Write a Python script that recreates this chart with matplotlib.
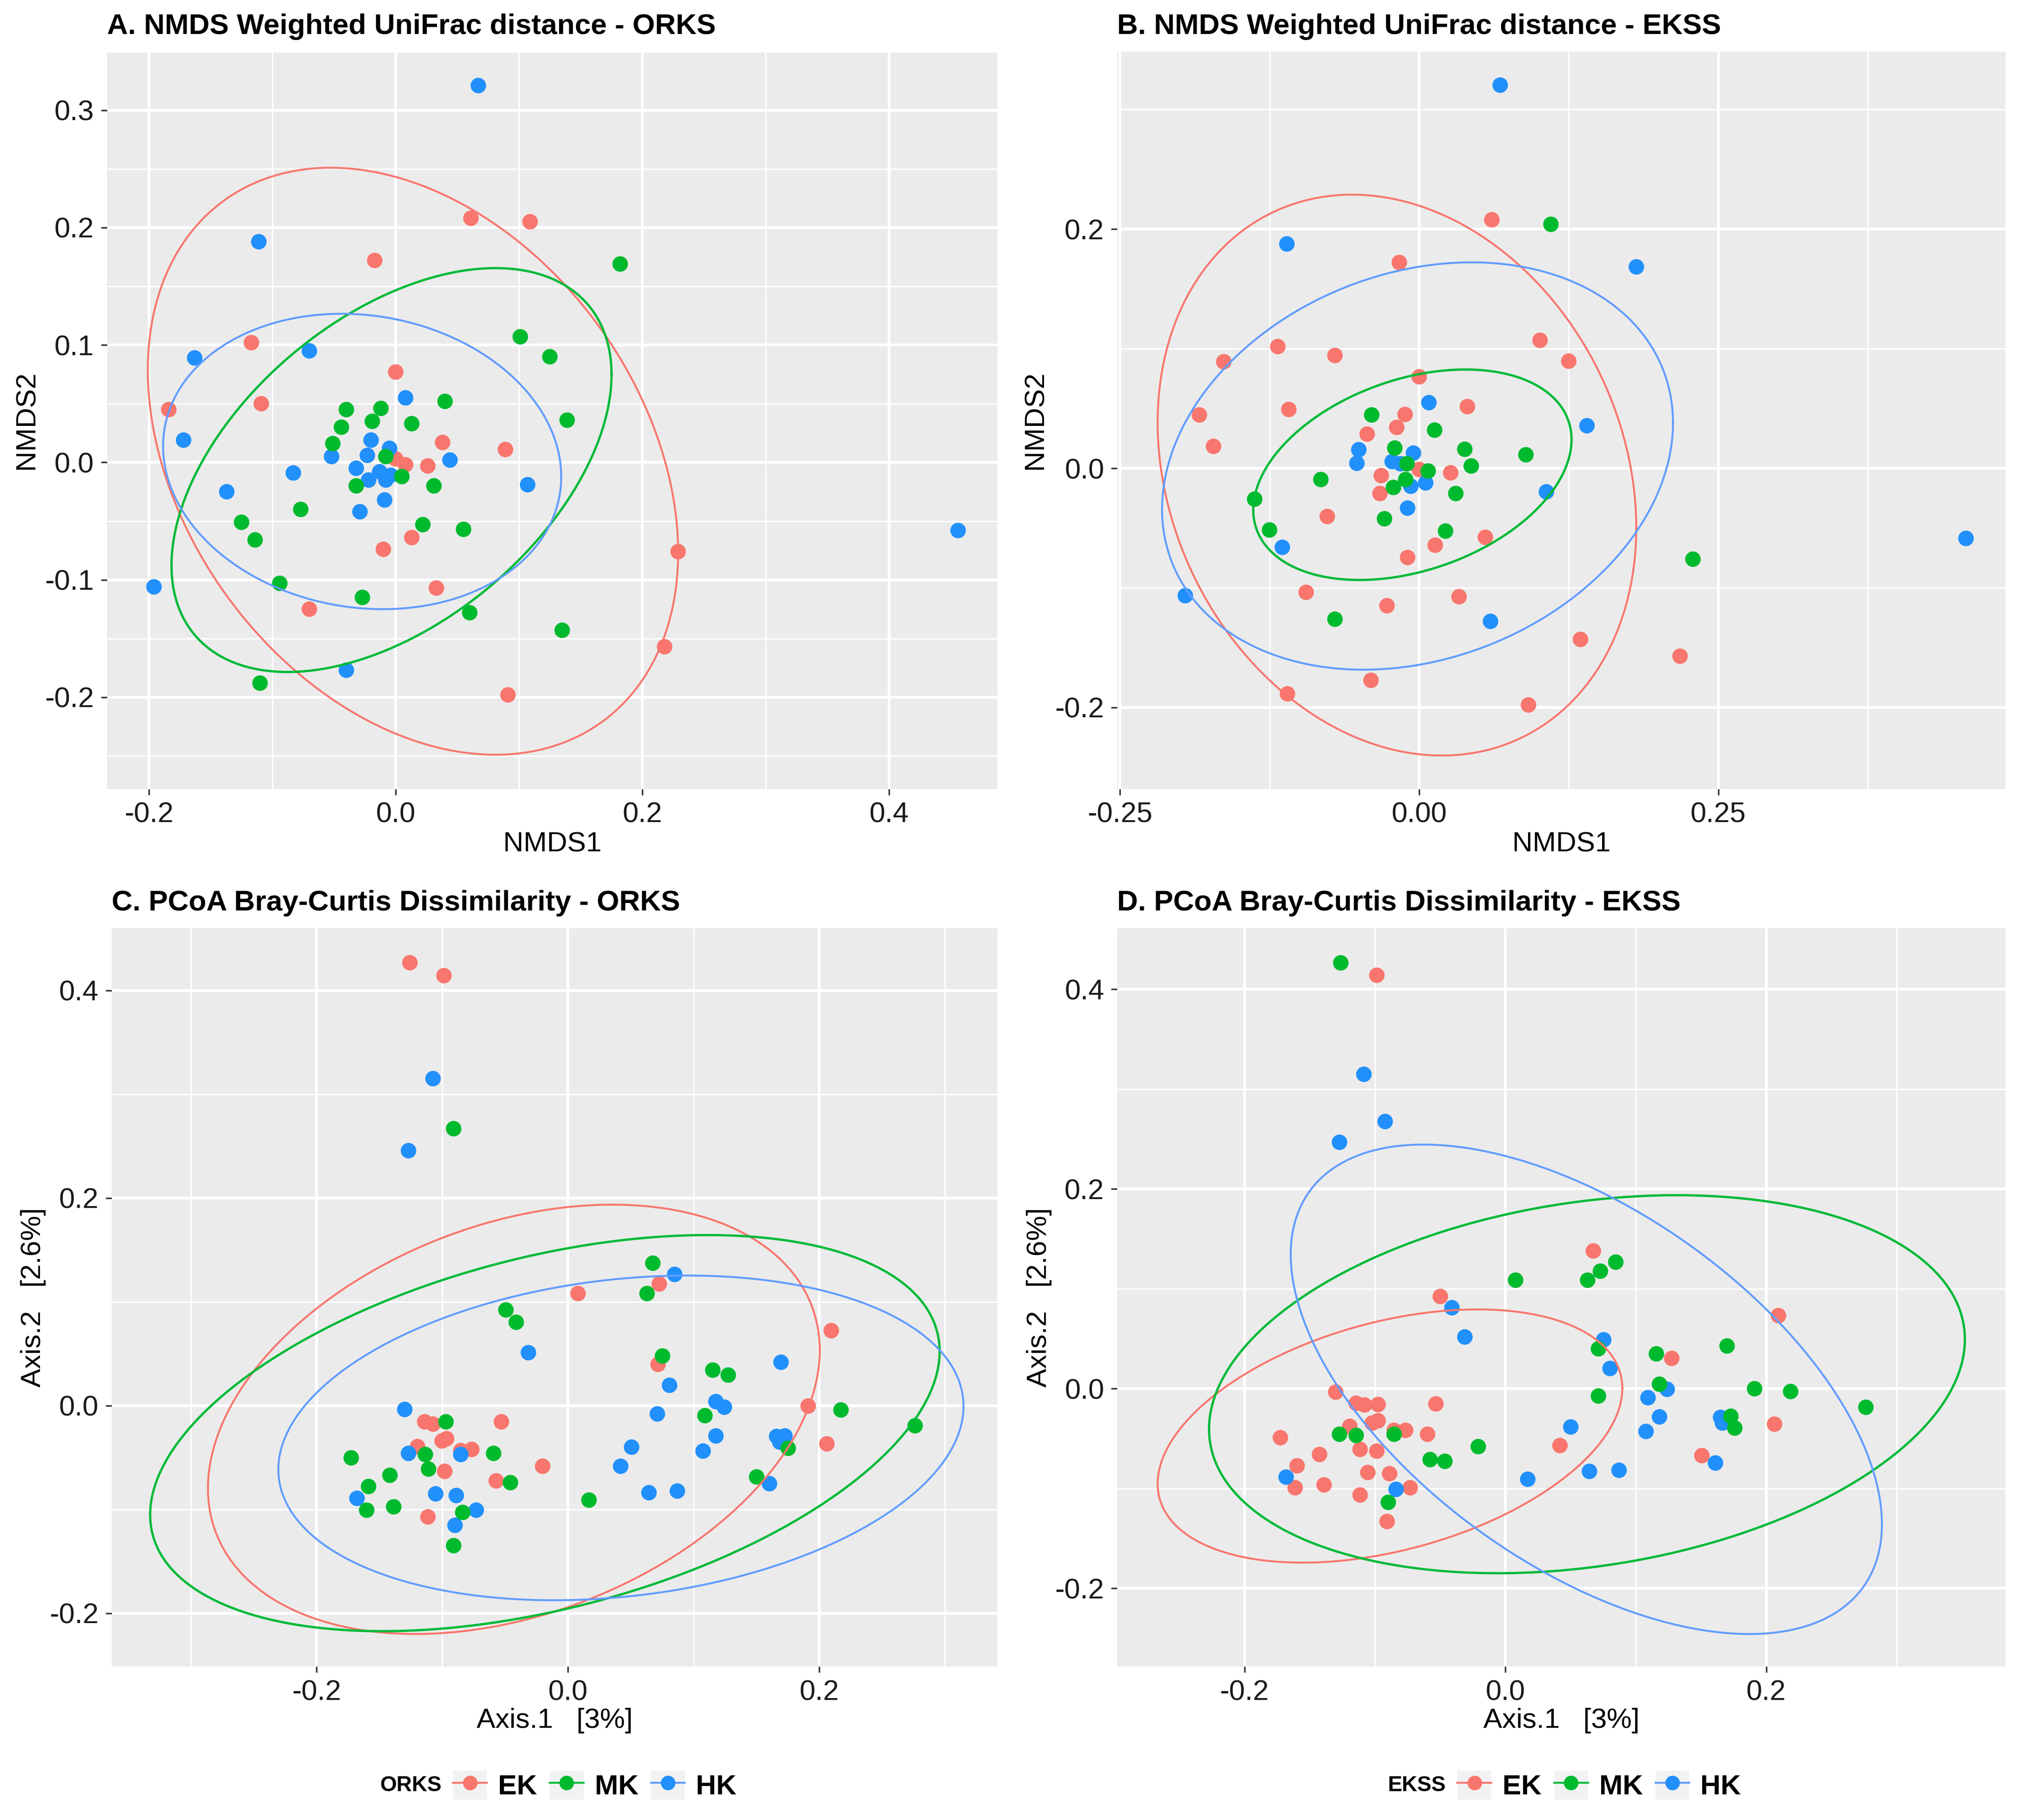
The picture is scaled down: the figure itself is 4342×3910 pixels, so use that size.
import matplotlib
matplotlib.use('Agg')
import matplotlib.pyplot as plt
import numpy as np
from matplotlib.patches import Rectangle
from matplotlib.lines import Line2D
from matplotlib.legend_handler import HandlerTuple
from matplotlib.ticker import FixedLocator

plt.rcParams['font.family'] = ['Liberation Sans', 'DejaVu Sans']

groups = ['EK', 'MK', 'HK']
point_colors = ['#F8766D', '#00BA2E', '#2190FB']
ellipse_colors = ['#F8766D', '#00BA38', '#619CFF']

# ---- panel A: NMDS weighted UniFrac, ORKS groups ----
A_EK_X = [0.061, 0.109, -0.017, -0.117, 0.000, -0.184, -0.109, 0.038, 0.089, 0.000, 0.008, 0.026, -0.010, 0.013, 0.229, 0.033, -0.070, 0.218, 0.091]
A_EK_Y = [0.208, 0.205, 0.172, 0.102, 0.077, 0.045, 0.050, 0.017, 0.011, 0.003, -0.002, -0.003, -0.074, -0.064, -0.076, -0.107, -0.125, -0.157, -0.198]
A_MK_X = [0.182, 0.101, 0.125, 0.139, 0.040, -0.040, -0.012, -0.019, -0.044, 0.013, -0.051, -0.008, 0.005, -0.032, 0.031, -0.077, -0.125, -0.114, 0.022, 0.055, -0.094, -0.027, 0.060, 0.135, -0.110]
A_MK_Y = [0.169, 0.107, 0.090, 0.036, 0.052, 0.045, 0.046, 0.035, 0.030, 0.033, 0.016, 0.005, -0.012, -0.020, -0.020, -0.040, -0.051, -0.066, -0.053, -0.057, -0.103, -0.115, -0.128, -0.143, -0.188]
A_HK_X = [0.067, -0.111, -0.163, -0.070, 0.008, -0.172, -0.020, -0.005, -0.023, -0.052, 0.044, -0.083, -0.032, -0.013, -0.008, -0.022, -0.004, 0.107, -0.137, -0.009, -0.029, -0.196, -0.040, 0.456]
A_HK_Y = [0.321, 0.188, 0.089, 0.095, 0.055, 0.019, 0.019, 0.012, 0.006, 0.005, 0.002, -0.009, -0.005, -0.008, -0.015, -0.015, -0.011, -0.019, -0.025, -0.032, -0.042, -0.106, -0.177, -0.058]
# ellipse: centre x, centre y, sd x, sd y, covariance
A_ELL_EK = [0.014, 0.001, 0.215, 0.250, -0.0167]
A_ELL_MK = [-0.0034, -0.0065, 0.1784, 0.172, 0.0145]
A_ELL_HK = [-0.0272, 0.0008, 0.1614, 0.1258, -0.0021]

# ---- panel B: NMDS weighted UniFrac, EKSS groups ----
B_EK_X = [0.0607, -0.0166, -0.1182, -0.1633, -0.0704, 0.101, 0.125, 0.0, -0.1837, -0.109, 0.0403, -0.0118, -0.0188, -0.0435, -0.1719, 0.0263, -0.0317, -0.0328, 0.0, -0.0768, 0.0553, 0.0134, -0.0097, -0.0945, 0.0333, -0.0269, 0.1348, 0.218, -0.0403, -0.1101, 0.0913]
B_EK_Y = [0.2078, 0.1721, 0.1018, 0.0891, 0.0943, 0.107, 0.0896, 0.0765, 0.0446, 0.0492, 0.0516, 0.045, 0.0342, 0.0286, 0.0183, -0.0038, -0.0061, -0.0211, -0.001, -0.0403, -0.0577, -0.0643, -0.0746, -0.1037, -0.1074, -0.1149, -0.1431, -0.1571, -0.1773, -0.1886, -0.1979]
B_MK_X = [0.1101, -0.0397, 0.0129, -0.0204, 0.0381, 0.0435, 0.0892, -0.0102, 0.0075, -0.0822, -0.0113, -0.0215, 0.0306, -0.1375, -0.1251, -0.029, 0.022, 0.2288, -0.0704]
B_MK_Y = [0.204, 0.0446, 0.0319, 0.0169, 0.0159, 0.0019, 0.0113, 0.0038, -0.0023, -0.0094, -0.0094, -0.016, -0.0211, -0.0258, -0.0516, -0.0422, -0.0525, -0.076, -0.1262]
B_HK_X = [0.0677, -0.1106, 0.1815, 0.0081, 0.1402, -0.0505, -0.0521, -0.0048, -0.0226, -0.0156, 0.0054, -0.007, 0.1063, -0.0097, -0.1144, -0.1955, 0.0596, 0.457]
B_HK_Y = [0.3204, 0.1876, 0.1684, 0.0549, 0.0356, 0.0155, 0.0042, 0.0127, 0.0056, 0.0038, -0.0122, -0.015, -0.0197, -0.0333, -0.0661, -0.1065, -0.128, -0.0586]
B_ELL_EK = [-0.0186, -0.0057, 0.2000, 0.2345, -0.0088]
B_ELL_MK = [-0.0057, -0.0054, 0.133, 0.088, 0.0039]
B_ELL_HK = [-0.0014, 0.0019, 0.2135, 0.1703, 0.0077]

# ---- panel C: PCoA Bray-Curtis, ORKS groups ----
C_EK_X = [-0.1256, -0.0985, 0.0082, 0.0728, 0.2097, 0.0718, 0.1913, 0.2062, -0.1138, -0.1072, -0.0528, -0.1195, -0.1, -0.0964, -0.0764, -0.0851, -0.02, -0.0979, -0.0569, -0.1113]
C_EK_Y = [0.4266, 0.4141, 0.1079, 0.1171, 0.0721, 0.0396, -0.0005, -0.0369, -0.0157, -0.0179, -0.0157, -0.0396, -0.0341, -0.032, -0.0423, -0.0434, -0.0585, -0.0634, -0.0726, -0.1073]
C_MK_X = [-0.0908, 0.0677, 0.0631, -0.0492, -0.041, 0.0754, 0.1154, 0.1277, 0.1092, 0.2174, 0.2764, -0.0969, -0.1133, -0.1108, -0.1723, -0.059, -0.1415, -0.1585, -0.0456, -0.16, -0.1385, -0.0836, -0.0908, 0.0169, 0.1503, 0.1754]
C_MK_Y = [0.2667, 0.1371, 0.1079, 0.0921, 0.0802, 0.0477, 0.0341, 0.0293, -0.0098, -0.0043, -0.0195, -0.0157, -0.0472, -0.0612, -0.0504, -0.0461, -0.0672, -0.078, -0.0743, -0.1008, -0.0976, -0.103, -0.135, -0.0911, -0.0688, -0.0412]
C_HK_X = [-0.1072, -0.1267, 0.0851, -0.0313, 0.1697, 0.081, 0.0713, 0.1179, 0.1246, -0.1297, 0.1179, 0.1662, 0.1728, 0.1687, -0.1267, -0.0851, 0.0508, 0.1077, 0.0421, -0.1677, -0.1051, -0.0887, -0.0728, -0.0897, 0.0646, 0.0872, 0.1605]
C_HK_Y = [0.3149, 0.2455, 0.1263, 0.0509, 0.0417, 0.0195, -0.0081, 0.0038, -0.0016, -0.0038, -0.0293, -0.0298, -0.0293, -0.0352, -0.0461, -0.0472, -0.0401, -0.0439, -0.0585, -0.0894, -0.0851, -0.0867, -0.1008, -0.1154, -0.084, -0.0824, -0.0753]
C_ELL_EK = [-0.0429, -0.0133, 0.2434, 0.2068, 0.0162]
C_ELL_MK = [-0.0182, -0.0266, 0.3141, 0.1908, 0.0247]
C_ELL_HK = [0.0423, -0.0312, 0.2726, 0.1564, 0.0083]

# ---- panel D: PCoA Bray-Curtis, EKSS groups ----
D_EK_X = [-0.0985, 0.0675, -0.0498, 0.2094, 0.1276, -0.13, -0.1143, -0.1079, -0.0975, -0.0532, -0.1192, -0.0975, -0.102, -0.0852, -0.0764, -0.0596, -0.1724, -0.1113, -0.0985, -0.1424, -0.1596, -0.1054, -0.0887, -0.1389, -0.1611, -0.1113, -0.0729, -0.0906, 0.0419, 0.1507, 0.2064]
D_EK_Y = [0.4141, 0.138, 0.0924, 0.0732, 0.0304, -0.0034, -0.0146, -0.0163, -0.0158, -0.0152, -0.0377, -0.0321, -0.0344, -0.0417, -0.0417, -0.0456, -0.049, -0.0608, -0.0625, -0.0659, -0.0772, -0.0839, -0.0851, -0.0963, -0.0992, -0.1065, -0.0992, -0.133, -0.0569, -0.067, -0.0355]
D_MK_X = [-0.1261, 0.0847, 0.0729, 0.0631, 0.0079, 0.0714, 0.1158, 0.17, 0.0714, 0.1182, 0.1911, 0.2187, 0.2764, 0.1729, 0.1759, -0.1271, -0.1143, -0.0852, -0.0207, -0.0576, -0.0463, -0.0897]
D_MK_Y = [0.4265, 0.1268, 0.1177, 0.1087, 0.1087, 0.04, 0.0349, 0.0428, -0.0073, 0.0045, 0.0, -0.0028, -0.0186, -0.0276, -0.0394, -0.0456, -0.0468, -0.0456, -0.058, -0.071, -0.0727, -0.1138]
D_HK_X = [-0.1084, -0.0921, -0.1271, -0.0409, -0.031, 0.0754, 0.0803, 0.1241, 0.1094, 0.1182, 0.165, 0.1665, 0.0502, 0.1079, 0.1611, 0.0645, 0.0872, 0.0172, -0.168, -0.0837]
D_HK_Y = [0.3149, 0.2676, 0.2468, 0.0811, 0.0518, 0.049, 0.0203, -0.0006, -0.009, -0.0282, -0.0287, -0.0344, -0.0383, -0.0428, -0.0744, -0.0828, -0.0817, -0.0907, -0.0885, -0.1008]
D_ELL_EK = [-0.0884, -0.0474, 0.1781, 0.1268, 0.0085]
D_ELL_MK = [0.0626, 0.0045, 0.2897, 0.1893, 0.013]
D_ELL_HK = [0.0621, -0.0006, 0.2266, 0.2451, -0.0306]

# ticks
A_XTICKS = [-0.2, 0.0, 0.2, 0.4]
A_XLABELS = ['-0.2', '0.0', '0.2', '0.4']
A_YTICKS = [-0.2, -0.1, 0.0, 0.1, 0.2, 0.3]
A_YLABELS = ['-0.2', '-0.1', '0.0', '0.1', '0.2', '0.3']
B_XTICKS = [-0.25, 0.0, 0.25]
B_XLABELS = ['-0.25', '0.00', '0.25']
B_YTICKS = [-0.2, 0.0, 0.2]
B_YLABELS = ['-0.2', '0.0', '0.2']
CD_XTICKS = [-0.2, 0.0, 0.2]
CD_XLABELS = ['-0.2', '0.0', '0.2']
CD_YTICKS = [-0.2, 0.0, 0.2, 0.4]
CD_YLABELS = ['-0.2', '0.0', '0.2', '0.4']


def ellipse_curve(p, n=300):
    cx, cy, sx, sy, sxy = p
    S = np.array([[sx ** 2, sxy], [sxy, sy ** 2]])
    L = np.linalg.cholesky(S)
    t = np.linspace(0, 2 * np.pi, n)
    pts = L @ np.vstack([np.cos(t), np.sin(t)])
    return cx + pts[0], cy + pts[1]


def minors(ticks):
    step = ticks[1] - ticks[0]
    ext = [ticks[0] - step] + list(ticks) + [ticks[-1] + step]
    return [(a + b) / 2 for a, b in zip(ext[:-1], ext[1:])]


fig = plt.figure(figsize=(4342 / 300, 3910 / 300), dpi=300)

panels = [
    dict(pos=[0.053, 0.5666, 0.4406, 0.4051],
         title='A. NMDS Weighted UniFrac distance - ORKS',
         xs=[A_EK_X, A_MK_X, A_HK_X], ys=[A_EK_Y, A_MK_Y, A_HK_Y],
         ells=[A_ELL_EK, A_ELL_MK, A_ELL_HK],
         xlim=(-0.234, 0.488), ylim=(-0.278, 0.350),
         xt=A_XTICKS, xl=A_XLABELS, yt=A_YTICKS, yl=A_YLABELS,
         xlabel='NMDS1', ylabel='NMDS2', ylx=0.0195, xly=0.5432),
    dict(pos=[0.5528, 0.5666, 0.4397, 0.4051],
         title='B. NMDS Weighted UniFrac distance - EKSS',
         xs=[B_EK_X, B_MK_X, B_HK_X], ys=[B_EK_Y, B_MK_Y, B_HK_Y],
         ells=[B_ELL_EK, B_ELL_MK, B_ELL_HK],
         xlim=(-0.2524, 0.4903), ylim=(-0.268, 0.3485),
         xt=B_XTICKS, xl=B_XLABELS, yt=B_YTICKS, yl=B_YLABELS,
         xlabel='NMDS1', ylabel='NMDS2', ylx=0.5185, xly=0.5432),
    dict(pos=[0.0552, 0.0843, 0.4384, 0.4058],
         title='C. PCoA Bray-Curtis Dissimilarity - ORKS',
         xs=[C_EK_X, C_MK_X, C_HK_X], ys=[C_EK_Y, C_MK_Y, C_HK_Y],
         ells=[C_ELL_EK, C_ELL_MK, C_ELL_HK],
         xlim=(-0.363, 0.342), ylim=(-0.2515, 0.460),
         xt=CD_XTICKS, xl=CD_XLABELS, yt=CD_YTICKS, yl=CD_YLABELS,
         xlabel='Axis.1   [3%]', ylabel='Axis.2   [2.6%]', ylx=0.0227, xly=0.0616),
    dict(pos=[0.5528, 0.0843, 0.4397, 0.4058],
         title='D. PCoA Bray-Curtis Dissimilarity - EKSS',
         xs=[D_EK_X, D_MK_X, D_HK_X], ys=[D_EK_Y, D_MK_Y, D_HK_Y],
         ells=[D_ELL_EK, D_ELL_MK, D_ELL_HK],
         xlim=(-0.2975, 0.3837), ylim=(-0.2783, 0.4614),
         xt=CD_XTICKS, xl=CD_XLABELS, yt=CD_YTICKS, yl=CD_YLABELS,
         xlabel='Axis.1   [3%]', ylabel='Axis.2   [2.6%]', ylx=0.5204, xly=0.0616),
]

draw_order = [0, 2, 1]  # EK, HK, MK

for p in panels:
    ax = fig.add_axes(p['pos'])
    ax.set_facecolor('#EBEBEB')
    for s in ax.spines.values():
        s.set_visible(False)
    for i in draw_order:
        ax.scatter(p['xs'][i], p['ys'][i], s=64, color=point_colors[i],
                   edgecolors='none', zorder=3)
    for i in range(3):
        ex, ey = ellipse_curve(p['ells'][i])
        ax.plot(ex, ey, color=ellipse_colors[i], lw=1.2 if i == 1 else 1.0, zorder=4)
    ax.set_xlim(*p['xlim'])
    ax.set_ylim(*p['ylim'])
    ax.set_xticks(p['xt'])
    ax.set_xticklabels(p['xl'])
    ax.set_yticks(p['yt'])
    ax.set_yticklabels(p['yl'])
    ax.xaxis.set_minor_locator(FixedLocator(minors(p['xt'])))
    ax.yaxis.set_minor_locator(FixedLocator(minors(p['yt'])))
    ax.grid(which='major', color='white', lw=1.4, zorder=0)
    ax.grid(which='minor', color='white', lw=0.7, zorder=0)
    ax.set_axisbelow(True)
    ax.tick_params(which='major', length=3.2, width=0.8, color='#333333',
                   pad=3.5, labelsize=14.7, labelcolor='#1A1A1A')
    ax.tick_params(which='minor', length=0)
    ax.set_title(p['title'], loc='left', fontsize=14.9, fontweight='bold', pad=9)
    ax.set_xlabel(p['xlabel'], fontsize=14.5)
    ax.set_ylabel(p['ylabel'], fontsize=14.5)
    ax.xaxis.set_label_coords(p['pos'][0] + p['pos'][2] / 2, p['xly'], transform=fig.transFigure)
    ax.xaxis.label.set_va('top')
    ax.yaxis.set_label_coords(p['ylx'], p['pos'][1] + p['pos'][3] / 2, transform=fig.transFigure)


def add_legend(x_key, x_title, title):
    handles = []
    for pc, ec in zip(point_colors, ellipse_colors):
        bg = Rectangle((0, 0), 1, 1, facecolor='#F2F2F2', edgecolor='none')
        ln = Line2D([], [], color=ec, lw=1.0, marker='o', markersize=6.5,
                    markerfacecolor=pc, markeredgecolor=pc)
        handles.append((bg, ln))
    fig.legend(handles, groups, loc='center left', bbox_to_anchor=(x_key, 0.019),
               ncol=3, frameon=False,
               handler_map={tuple: HandlerTuple(ndivide=1, pad=0)},
               handlelength=1.2, handleheight=1.2, handletextpad=0.4,
               columnspacing=0.45, borderpad=0, borderaxespad=0,
               prop={'weight': 'bold', 'size': 14.5})
    fig.text(x_title, 0.019, title, ha='right', va='center',
             fontsize=11, fontweight='bold')


add_legend(0.2242, 0.2185, 'ORKS')
add_legend(0.7212, 0.7155, 'EKSS')

fig.savefig('out.png', dpi=300, facecolor='white')
